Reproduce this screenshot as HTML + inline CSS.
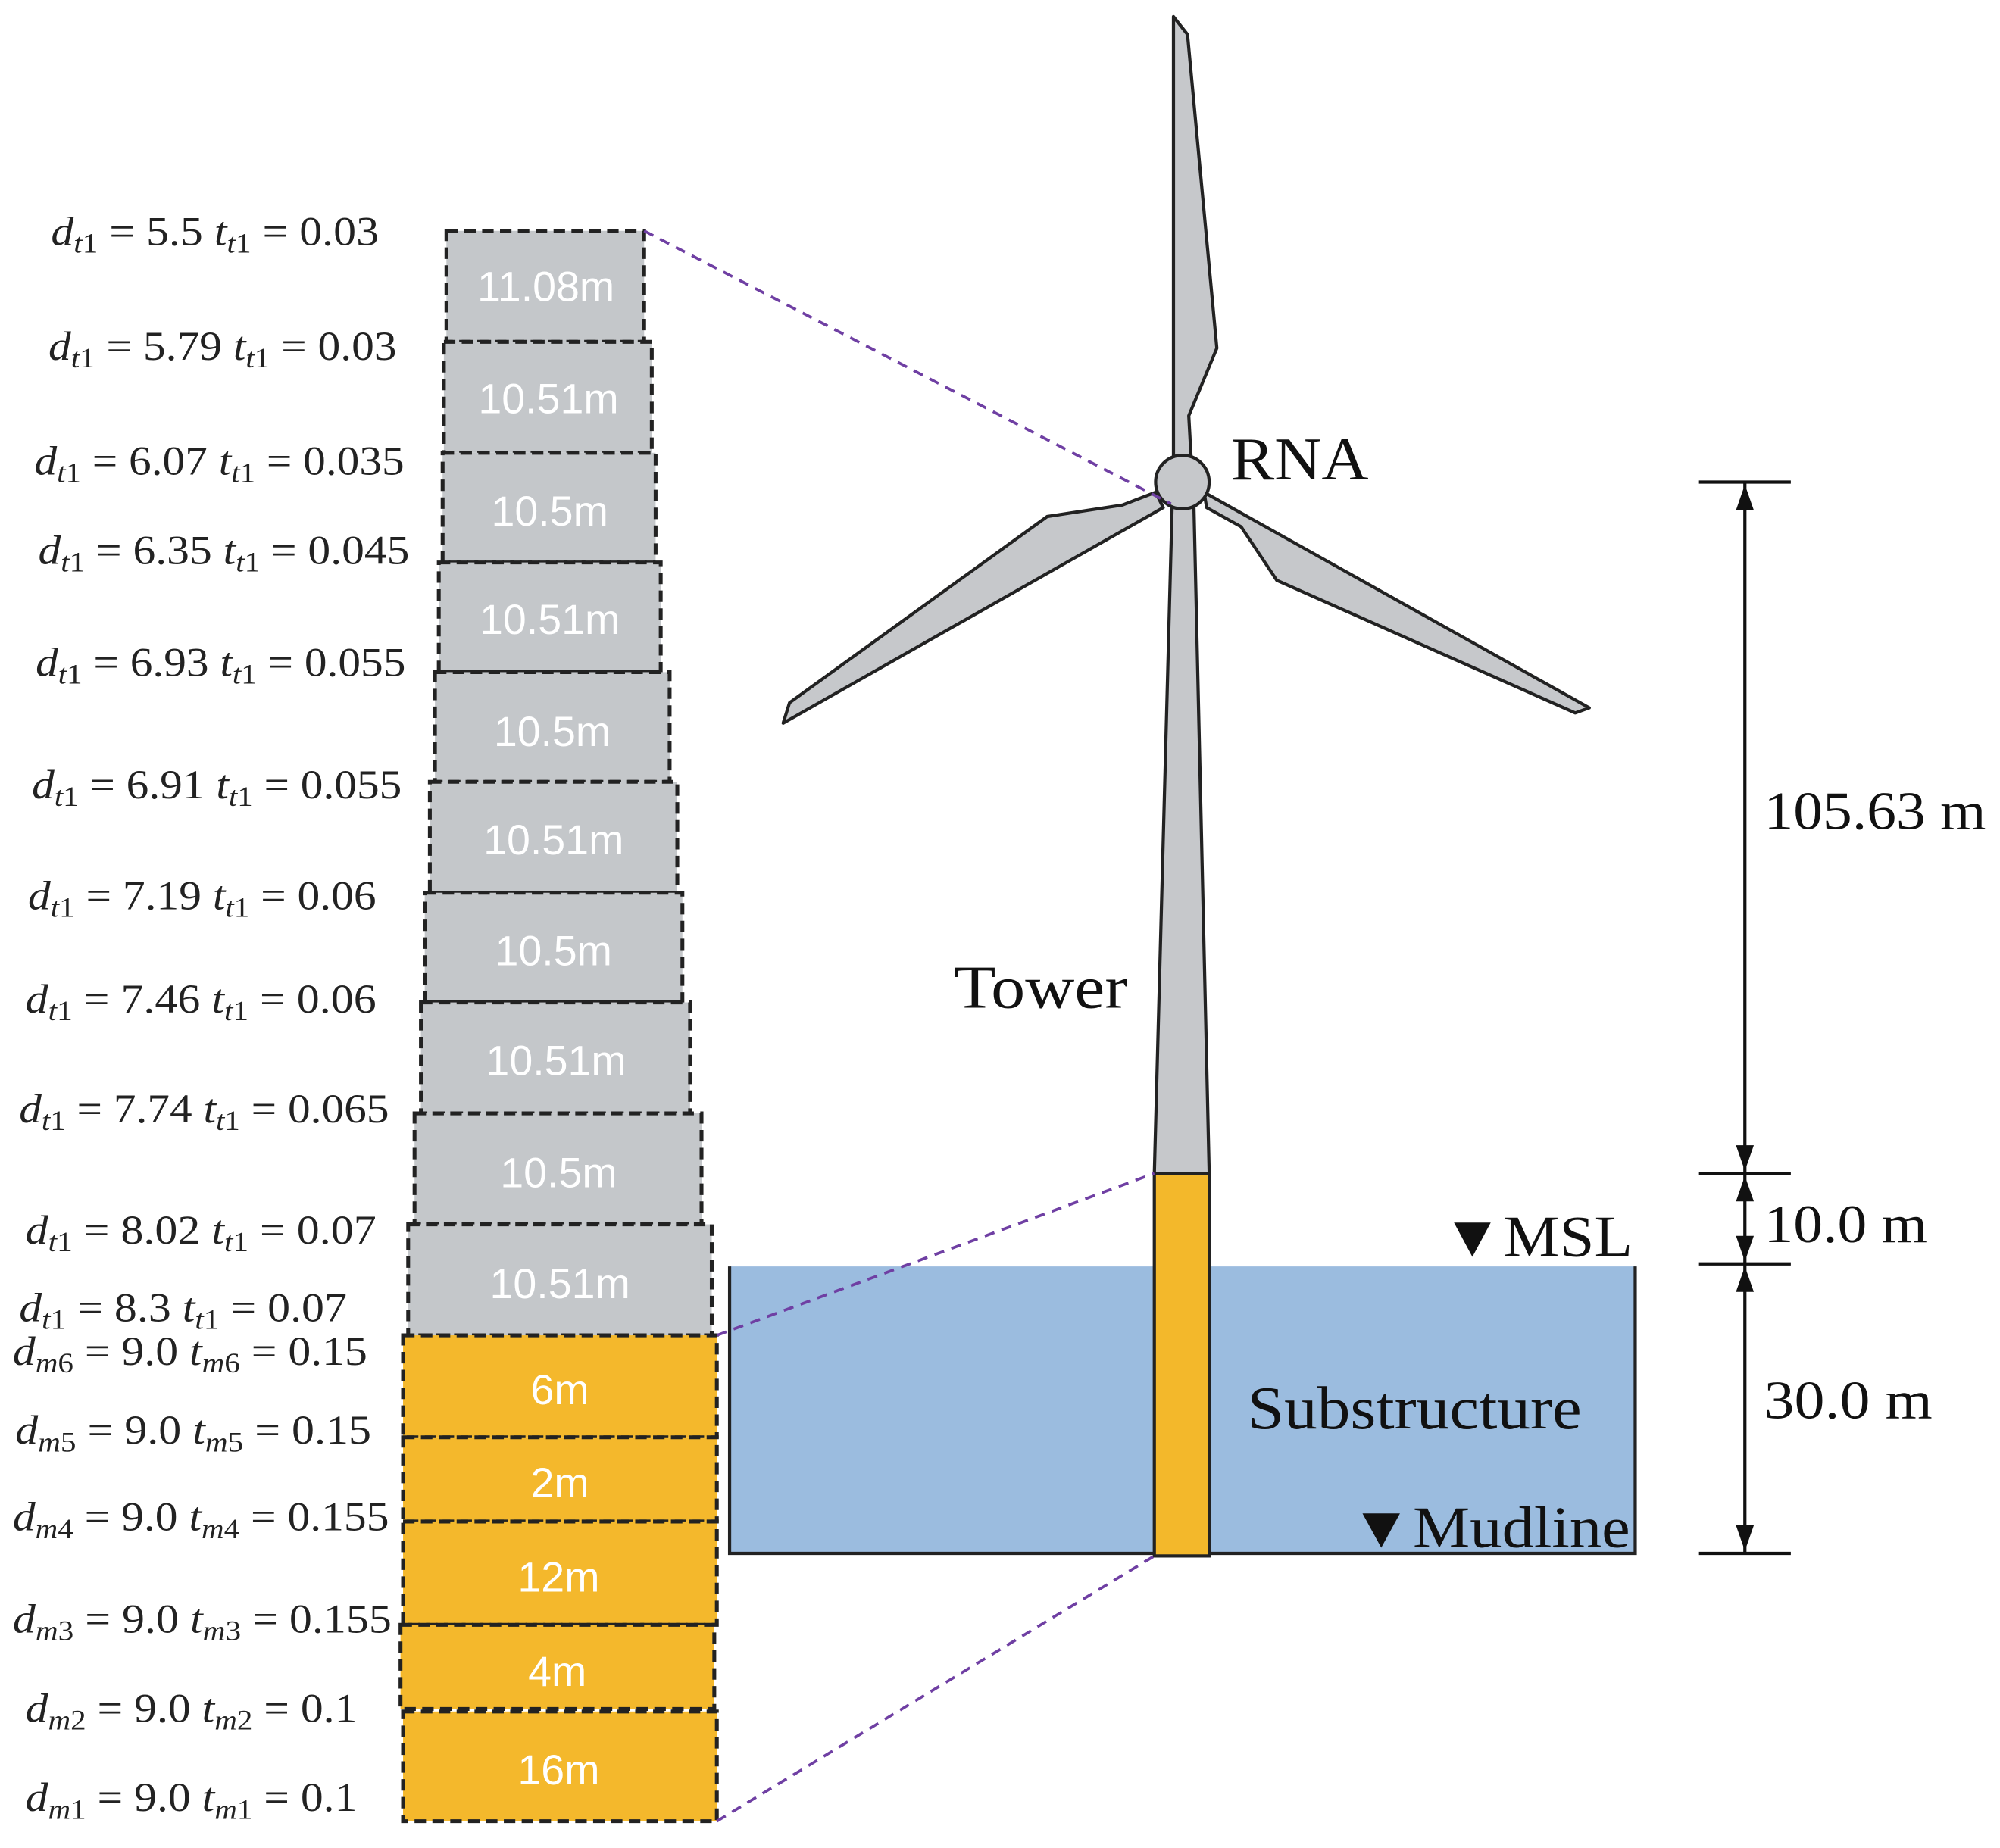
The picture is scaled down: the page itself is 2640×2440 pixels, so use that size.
<!DOCTYPE html>
<html><head><meta charset="utf-8"><style>html,body{margin:0;padding:0;background:#fff}svg{display:block}</style></head>
<body>
<svg width="2640" height="2440" viewBox="0 0 1568 1449" preserveAspectRatio="none" xmlns="http://www.w3.org/2000/svg">
<rect width="1568" height="1449" fill="#fff"/>
<rect x="572" y="993" width="710" height="225" fill="#9bbcdf"/>
<path d="M572,993 V1218 H1282 V993" fill="none" stroke="#222" stroke-width="2.5"/>
<g fill="#c6c8cb" stroke="#222" stroke-width="2.5" stroke-linejoin="round">
<polygon points="920,13 931,27 954,273 932,326 934,362 920,362"/>
<polygon points="906,386 880,396 821,405 619,551 614,567 912,398"/>
<polygon points="944,386 1246,555 1235,559 1001,455 973,413 946,398"/>
<polygon points="919,395 936,395 948,920 905,920"/>
<circle cx="927" cy="378" r="21"/>
</g>
<rect x="905" y="920" width="43" height="300" fill="#f3b82b" stroke="#222" stroke-width="2.5"/>
<g stroke="#222" stroke-width="3" stroke-dasharray="9,5">
<rect x="350" y="181" width="155" height="87" fill="#c4c7ca"/>
<rect x="348" y="268" width="163" height="87" fill="#c4c7ca"/>
<rect x="347" y="355" width="167" height="86" fill="#c4c7ca"/>
<rect x="344" y="441" width="174" height="86" fill="#c4c7ca"/>
<rect x="341" y="527" width="184" height="86" fill="#c4c7ca"/>
<rect x="337" y="613" width="194" height="87" fill="#c4c7ca"/>
<rect x="333" y="700" width="202" height="86" fill="#c4c7ca"/>
<rect x="330" y="786" width="211" height="87" fill="#c4c7ca"/>
<rect x="325" y="873" width="225" height="87" fill="#c4c7ca"/>
<rect x="320" y="960" width="238" height="87" fill="#c4c7ca"/>
<rect x="316" y="1047" width="246" height="80" fill="#f4b82c"/>
<rect x="316" y="1127" width="246" height="66" fill="#f4b82c"/>
<rect x="316" y="1193" width="246" height="81" fill="#f4b82c"/>
<rect x="314" y="1274" width="246" height="66" fill="#f4b82c"/>
<rect x="316" y="1342" width="246" height="86" fill="#f4b82c"/>
</g>
<g fill="#fff" font-family="Liberation Sans Narrow, Liberation Sans, sans-serif" font-size="33" text-anchor="middle">
<text x="428" y="236">11.08m</text>
<text x="430" y="324">10.51m</text>
<text x="431" y="412">10.5m</text>
<text x="431" y="497">10.51m</text>
<text x="433" y="585">10.5m</text>
<text x="434" y="670">10.51m</text>
<text x="434" y="757">10.5m</text>
<text x="436" y="843">10.51m</text>
<text x="438" y="931">10.5m</text>
<text x="439" y="1018">10.51m</text>
<text x="439" y="1101">6m</text>
<text x="439" y="1174">2m</text>
<text x="438" y="1248">12m</text>
<text x="437" y="1322">4m</text>
<text x="438" y="1399">16m</text>
</g>
<g stroke="#6f3fa3" stroke-width="2.2" stroke-dasharray="8,6" fill="none">
<line x1="505" y1="181" x2="918" y2="395"/>
<line x1="562" y1="1047" x2="905" y2="920"/>
<line x1="562" y1="1428" x2="905" y2="1220"/>
</g>
<g stroke="#111" stroke-width="2.5">
<line x1="1368" y1="378" x2="1368" y2="1218"/>
<line x1="1332" y1="378" x2="1404" y2="378"/>
<line x1="1332" y1="920" x2="1404" y2="920"/>
<line x1="1332" y1="991" x2="1404" y2="991"/>
<line x1="1332" y1="1218" x2="1404" y2="1218"/>
</g>
<g fill="#111">
<polygon points="1368,380 1361,400 1375,400"/>
<polygon points="1368,918 1361,898 1375,898"/>
<polygon points="1368,922 1361,942 1375,942"/>
<polygon points="1368,989 1361,969 1375,969"/>
<polygon points="1368,993 1361,1013 1375,1013"/>
<polygon points="1368,1216 1361,1196 1375,1196"/>
</g>
<g font-family="Liberation Serif, serif" fill="#111" lengthAdjust="spacingAndGlyphs">
<text x="1383" y="650" font-size="42" textLength="174" lengthAdjust="spacingAndGlyphs">105.63 m</text>
<text x="1383" y="974" font-size="42" textLength="128" lengthAdjust="spacingAndGlyphs">10.0 m</text>
<text x="1383" y="1112" font-size="42" textLength="132" lengthAdjust="spacingAndGlyphs">30.0 m</text>
<text x="965" y="376" font-size="48" textLength="108" lengthAdjust="spacingAndGlyphs">RNA</text>
<text x="748" y="790" font-size="48" textLength="136" lengthAdjust="spacingAndGlyphs">Tower</text>
<text x="978" y="1120" font-size="48" textLength="262" lengthAdjust="spacingAndGlyphs">Substructure</text>
<text x="1130" y="985" font-size="46" textLength="150" lengthAdjust="spacingAndGlyphs">▼MSL</text>
<text x="1058" y="1213" font-size="46" textLength="220" lengthAdjust="spacingAndGlyphs">▼Mudline</text>
</g>
<g font-family="Liberation Serif, serif" font-size="32" fill="#222">
<text x="40" y="192" textLength="257" lengthAdjust="spacingAndGlyphs"><tspan font-style="italic">d</tspan><tspan font-style="italic" font-size="22" dy="6">t</tspan><tspan font-size="22">1</tspan><tspan dy="-6"> = 5.5 </tspan><tspan font-style="italic">t</tspan><tspan font-style="italic" font-size="22" dy="6">t</tspan><tspan font-size="22">1</tspan><tspan dy="-6"> = 0.03</tspan></text>
<text x="38" y="282" textLength="273" lengthAdjust="spacingAndGlyphs"><tspan font-style="italic">d</tspan><tspan font-style="italic" font-size="22" dy="6">t</tspan><tspan font-size="22">1</tspan><tspan dy="-6"> = 5.79 </tspan><tspan font-style="italic">t</tspan><tspan font-style="italic" font-size="22" dy="6">t</tspan><tspan font-size="22">1</tspan><tspan dy="-6"> = 0.03</tspan></text>
<text x="27" y="372" textLength="290" lengthAdjust="spacingAndGlyphs"><tspan font-style="italic">d</tspan><tspan font-style="italic" font-size="22" dy="6">t</tspan><tspan font-size="22">1</tspan><tspan dy="-6"> = 6.07 </tspan><tspan font-style="italic">t</tspan><tspan font-style="italic" font-size="22" dy="6">t</tspan><tspan font-size="22">1</tspan><tspan dy="-6"> = 0.035</tspan></text>
<text x="30" y="442" textLength="291" lengthAdjust="spacingAndGlyphs"><tspan font-style="italic">d</tspan><tspan font-style="italic" font-size="22" dy="6">t</tspan><tspan font-size="22">1</tspan><tspan dy="-6"> = 6.35 </tspan><tspan font-style="italic">t</tspan><tspan font-style="italic" font-size="22" dy="6">t</tspan><tspan font-size="22">1</tspan><tspan dy="-6"> = 0.045</tspan></text>
<text x="28" y="530" textLength="290" lengthAdjust="spacingAndGlyphs"><tspan font-style="italic">d</tspan><tspan font-style="italic" font-size="22" dy="6">t</tspan><tspan font-size="22">1</tspan><tspan dy="-6"> = 6.93 </tspan><tspan font-style="italic">t</tspan><tspan font-style="italic" font-size="22" dy="6">t</tspan><tspan font-size="22">1</tspan><tspan dy="-6"> = 0.055</tspan></text>
<text x="25" y="626" textLength="290" lengthAdjust="spacingAndGlyphs"><tspan font-style="italic">d</tspan><tspan font-style="italic" font-size="22" dy="6">t</tspan><tspan font-size="22">1</tspan><tspan dy="-6"> = 6.91 </tspan><tspan font-style="italic">t</tspan><tspan font-style="italic" font-size="22" dy="6">t</tspan><tspan font-size="22">1</tspan><tspan dy="-6"> = 0.055</tspan></text>
<text x="22" y="713" textLength="273" lengthAdjust="spacingAndGlyphs"><tspan font-style="italic">d</tspan><tspan font-style="italic" font-size="22" dy="6">t</tspan><tspan font-size="22">1</tspan><tspan dy="-6"> = 7.19 </tspan><tspan font-style="italic">t</tspan><tspan font-style="italic" font-size="22" dy="6">t</tspan><tspan font-size="22">1</tspan><tspan dy="-6"> = 0.06</tspan></text>
<text x="20" y="794" textLength="275" lengthAdjust="spacingAndGlyphs"><tspan font-style="italic">d</tspan><tspan font-style="italic" font-size="22" dy="6">t</tspan><tspan font-size="22">1</tspan><tspan dy="-6"> = 7.46 </tspan><tspan font-style="italic">t</tspan><tspan font-style="italic" font-size="22" dy="6">t</tspan><tspan font-size="22">1</tspan><tspan dy="-6"> = 0.06</tspan></text>
<text x="15" y="880" textLength="290" lengthAdjust="spacingAndGlyphs"><tspan font-style="italic">d</tspan><tspan font-style="italic" font-size="22" dy="6">t</tspan><tspan font-size="22">1</tspan><tspan dy="-6"> = 7.74 </tspan><tspan font-style="italic">t</tspan><tspan font-style="italic" font-size="22" dy="6">t</tspan><tspan font-size="22">1</tspan><tspan dy="-6"> = 0.065</tspan></text>
<text x="20" y="975" textLength="275" lengthAdjust="spacingAndGlyphs"><tspan font-style="italic">d</tspan><tspan font-style="italic" font-size="22" dy="6">t</tspan><tspan font-size="22">1</tspan><tspan dy="-6"> = 8.02 </tspan><tspan font-style="italic">t</tspan><tspan font-style="italic" font-size="22" dy="6">t</tspan><tspan font-size="22">1</tspan><tspan dy="-6"> = 0.07</tspan></text>
<text x="15" y="1036" textLength="257" lengthAdjust="spacingAndGlyphs"><tspan font-style="italic">d</tspan><tspan font-style="italic" font-size="22" dy="6">t</tspan><tspan font-size="22">1</tspan><tspan dy="-6"> = 8.3 </tspan><tspan font-style="italic">t</tspan><tspan font-style="italic" font-size="22" dy="6">t</tspan><tspan font-size="22">1</tspan><tspan dy="-6"> = 0.07</tspan></text>
<text x="10" y="1070" textLength="278" lengthAdjust="spacingAndGlyphs"><tspan font-style="italic">d</tspan><tspan font-style="italic" font-size="22" dy="6">m</tspan><tspan font-size="22">6</tspan><tspan dy="-6"> = 9.0 </tspan><tspan font-style="italic">t</tspan><tspan font-style="italic" font-size="22" dy="6">m</tspan><tspan font-size="22">6</tspan><tspan dy="-6"> = 0.15</tspan></text>
<text x="12" y="1132" textLength="279" lengthAdjust="spacingAndGlyphs"><tspan font-style="italic">d</tspan><tspan font-style="italic" font-size="22" dy="6">m</tspan><tspan font-size="22">5</tspan><tspan dy="-6"> = 9.0 </tspan><tspan font-style="italic">t</tspan><tspan font-style="italic" font-size="22" dy="6">m</tspan><tspan font-size="22">5</tspan><tspan dy="-6"> = 0.15</tspan></text>
<text x="10" y="1200" textLength="295" lengthAdjust="spacingAndGlyphs"><tspan font-style="italic">d</tspan><tspan font-style="italic" font-size="22" dy="6">m</tspan><tspan font-size="22">4</tspan><tspan dy="-6"> = 9.0 </tspan><tspan font-style="italic">t</tspan><tspan font-style="italic" font-size="22" dy="6">m</tspan><tspan font-size="22">4</tspan><tspan dy="-6"> = 0.155</tspan></text>
<text x="10" y="1280" textLength="297" lengthAdjust="spacingAndGlyphs"><tspan font-style="italic">d</tspan><tspan font-style="italic" font-size="22" dy="6">m</tspan><tspan font-size="22">3</tspan><tspan dy="-6"> = 9.0 </tspan><tspan font-style="italic">t</tspan><tspan font-style="italic" font-size="22" dy="6">m</tspan><tspan font-size="22">3</tspan><tspan dy="-6"> = 0.155</tspan></text>
<text x="20" y="1350" textLength="260" lengthAdjust="spacingAndGlyphs"><tspan font-style="italic">d</tspan><tspan font-style="italic" font-size="22" dy="6">m</tspan><tspan font-size="22">2</tspan><tspan dy="-6"> = 9.0 </tspan><tspan font-style="italic">t</tspan><tspan font-style="italic" font-size="22" dy="6">m</tspan><tspan font-size="22">2</tspan><tspan dy="-6"> = 0.1</tspan></text>
<text x="20" y="1420" textLength="260" lengthAdjust="spacingAndGlyphs"><tspan font-style="italic">d</tspan><tspan font-style="italic" font-size="22" dy="6">m</tspan><tspan font-size="22">1</tspan><tspan dy="-6"> = 9.0 </tspan><tspan font-style="italic">t</tspan><tspan font-style="italic" font-size="22" dy="6">m</tspan><tspan font-size="22">1</tspan><tspan dy="-6"> = 0.1</tspan></text>
</g>
</svg>
</body></html>
